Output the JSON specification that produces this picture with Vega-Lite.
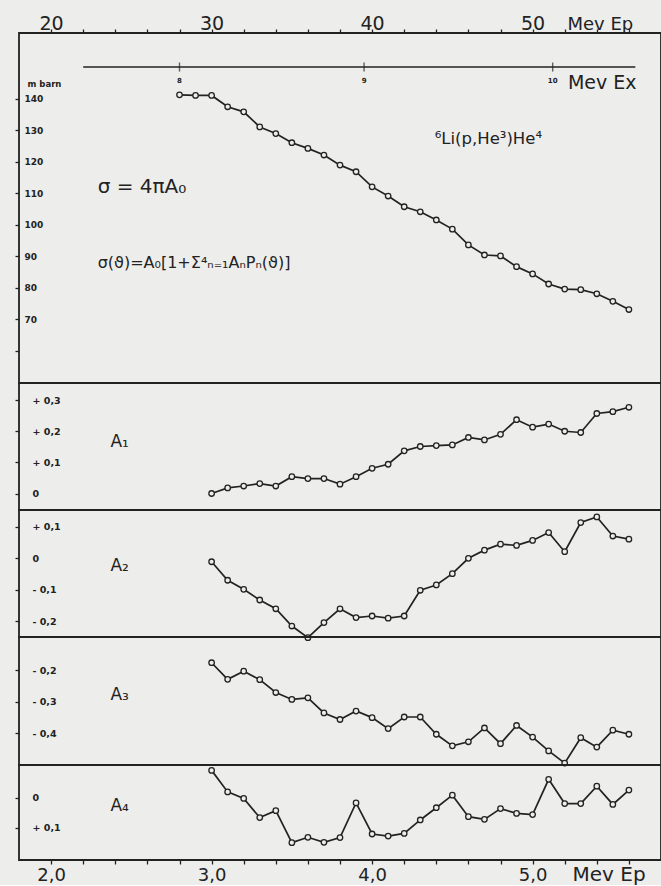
{
  "$schema": "https://vega.github.io/schema/vega-lite/v6.json",
  "background": "#ededeb",
  "padding": {"left": 13, "top": 13, "right": 0, "bottom": 0},
  "spacing": 0,
  "bounds": "flush",
  "datasets": {
    "sigma": [
      {"ep": 28, "v": 141.2}, {"ep": 29, "v": 141.0}, {"ep": 30, "v": 141.0},
      {"ep": 31, "v": 137.4}, {"ep": 32, "v": 135.8}, {"ep": 33, "v": 131.0},
      {"ep": 34, "v": 128.9}, {"ep": 35, "v": 126.0}, {"ep": 36, "v": 124.2},
      {"ep": 37, "v": 122.1}, {"ep": 38, "v": 118.9}, {"ep": 39, "v": 116.8},
      {"ep": 40, "v": 112.0}, {"ep": 41, "v": 109.1}, {"ep": 42, "v": 105.7},
      {"ep": 43, "v": 104.1}, {"ep": 44, "v": 101.5}, {"ep": 45, "v": 98.6},
      {"ep": 46, "v": 93.6}, {"ep": 47, "v": 90.4}, {"ep": 48, "v": 90.1},
      {"ep": 49, "v": 86.7}, {"ep": 50, "v": 84.4}, {"ep": 51, "v": 81.2},
      {"ep": 52, "v": 79.6}, {"ep": 53, "v": 79.4}, {"ep": 54, "v": 78.1},
      {"ep": 55, "v": 75.7}, {"ep": 56, "v": 73.1}
    ],
    "coef": [
      {"ep": 30, "A1": 0.000, "A2": -0.011, "A3": -0.176, "A4": -0.092},
      {"ep": 31, "A1": 0.018, "A2": -0.070, "A3": -0.229, "A4": -0.020},
      {"ep": 32, "A1": 0.024, "A2": -0.099, "A3": -0.203, "A4": 0.002},
      {"ep": 33, "A1": 0.032, "A2": -0.133, "A3": -0.230, "A4": 0.066},
      {"ep": 34, "A1": 0.024, "A2": -0.161, "A3": -0.271, "A4": 0.043},
      {"ep": 35, "A1": 0.054, "A2": -0.216, "A3": -0.293, "A4": 0.150},
      {"ep": 36, "A1": 0.048, "A2": -0.253, "A3": -0.288, "A4": 0.132},
      {"ep": 37, "A1": 0.048, "A2": -0.205, "A3": -0.336, "A4": 0.149},
      {"ep": 38, "A1": 0.030, "A2": -0.161, "A3": -0.357, "A4": 0.133},
      {"ep": 39, "A1": 0.054, "A2": -0.189, "A3": -0.330, "A4": 0.017},
      {"ep": 40, "A1": 0.081, "A2": -0.184, "A3": -0.351, "A4": 0.121},
      {"ep": 41, "A1": 0.094, "A2": -0.191, "A3": -0.386, "A4": 0.128},
      {"ep": 42, "A1": 0.137, "A2": -0.184, "A3": -0.349, "A4": 0.119},
      {"ep": 43, "A1": 0.151, "A2": -0.102, "A3": -0.349, "A4": 0.074},
      {"ep": 44, "A1": 0.154, "A2": -0.085, "A3": -0.404, "A4": 0.033},
      {"ep": 45, "A1": 0.156, "A2": -0.049, "A3": -0.441, "A4": -0.009},
      {"ep": 46, "A1": 0.180, "A2": 0.000, "A3": -0.428, "A4": 0.063},
      {"ep": 47, "A1": 0.172, "A2": 0.026, "A3": -0.384, "A4": 0.072},
      {"ep": 48, "A1": 0.190, "A2": 0.045, "A3": -0.434, "A4": 0.036},
      {"ep": 49, "A1": 0.237, "A2": 0.041, "A3": -0.376, "A4": 0.052},
      {"ep": 50, "A1": 0.213, "A2": 0.057, "A3": -0.413, "A4": 0.056},
      {"ep": 51, "A1": 0.223, "A2": 0.082, "A3": -0.457, "A4": -0.062},
      {"ep": 52, "A1": 0.200, "A2": 0.021, "A3": -0.496, "A4": 0.019},
      {"ep": 53, "A1": 0.196, "A2": 0.114, "A3": -0.415, "A4": 0.019},
      {"ep": 54, "A1": 0.257, "A2": 0.132, "A3": -0.445, "A4": -0.039},
      {"ep": 55, "A1": 0.263, "A2": 0.071, "A3": -0.391, "A4": 0.022},
      {"ep": 56, "A1": 0.277, "A2": 0.061, "A3": -0.404, "A4": -0.026}
    ],
    "ex": [
      {"ep": 28, "lab": "8"},
      {"ep": 39.5, "lab": "9"},
      {"ep": 51.25, "lab": "10"}
    ]
  },
  "config": {
    "view": {"stroke": "#222222", "strokeWidth": 1.8},
    "font": "DejaVu Sans",
    "axis": {
      "domain": false, "grid": false,
      "tickColor": "#222222", "tickWidth": 1.3, "tickSize": 4,
      "labelColor": "#222222", "labelFont": "DejaVu Sans",
      "titleColor": "#222222", "titleFont": "DejaVu Sans", "titleFontWeight": "normal"
    },
    "text": {"color": "#222222", "font": "DejaVu Sans"}
  },
  "vconcat": [
    {
      "width": 642,
      "height": 350,
      "resolve": {"axis": {"x": "independent", "y": "independent"}},
      "layer": [
        {
          "data": {"name": "sigma"},
          "mark": {"type": "line", "color": "#222222", "strokeWidth": 1.7},
          "encoding": {
            "x": {
              "field": "ep", "type": "quantitative",
              "scale": {"domain": [18, 58], "nice": false, "zero": false},
              "axis": {
                "orient": "top",
                "values": [20, 22, 24, 26, 28, 30, 32, 34, 36, 38, 40, 42, 44, 46, 48, 50, 52, 54, 56],
                "labelExpr": "datum.value % 10 === 0 ? datum.label : ''",
                "labelFontSize": 19, "labelPadding": 0, "labelBaseline": "alphabetic",
                "title": "Mev Ep", "titleX": 548, "titleY": -4,
                "titleAlign": "left", "titleBaseline": "alphabetic", "titleFontSize": 18, "titleAngle": 0
              }
            },
            "y": {
              "field": "v", "type": "quantitative",
              "scale": {"domain": [49.8, 160.8], "nice": false, "zero": false},
              "axis": {
                "orient": "left",
                "values": [60, 70, 80, 90, 100, 110, 120, 130, 140],
                "labelExpr": "datum.value < 65 ? '' : datum.label",
                "labelAlign": "left", "labelPadding": -9, "labelFontSize": 9, "labelFontWeight": "bold",
                "title": "m barn", "titleX": 8, "titleY": 50, "titleAngle": 0,
                "titleAlign": "left", "titleBaseline": "middle", "titleFontSize": 8.5, "titleFontWeight": "bold"
              }
            }
          }
        },
        {
          "data": {"name": "sigma"},
          "mark": {"type": "point", "shape": "circle", "filled": true, "fill": "#ededeb", "stroke": "#222222", "strokeWidth": 1.3, "size": 30, "opacity": 1},
          "encoding": {
            "x": {"field": "ep", "type": "quantitative", "axis": null},
            "y": {"field": "v", "type": "quantitative", "axis": null}
          }
        },
        {
          "data": {"values": [{"a": 22, "b": 56.4, "c": 150}]},
          "mark": {"type": "rule", "color": "#222222", "strokeWidth": 1.6},
          "encoding": {
            "x": {"field": "a", "type": "quantitative", "axis": null},
            "x2": {"field": "b"},
            "y": {"field": "c", "type": "quantitative", "axis": null}
          }
        },
        {
          "data": {"name": "ex"},
          "mark": {"type": "tick", "orient": "vertical", "color": "#222222", "thickness": 1.4, "size": 9},
          "encoding": {
            "x": {"field": "ep", "type": "quantitative", "axis": null},
            "y": {"datum": 150, "type": "quantitative", "axis": null}
          }
        },
        {
          "data": {"name": "ex"},
          "mark": {"type": "text", "fontSize": 7, "fontWeight": "bold", "baseline": "middle"},
          "encoding": {
            "x": {"field": "ep", "type": "quantitative", "axis": null},
            "y": {"datum": 145.6, "type": "quantitative", "axis": null},
            "text": {"field": "lab"}
          }
        },
        {
          "data": {"values": [{"t": "Mev Ex"}]},
          "mark": {"type": "text", "fontSize": 19, "align": "left", "baseline": "middle"},
          "encoding": {"x": {"datum": 52.2, "type": "quantitative", "axis": null}, "y": {"datum": 144.8, "type": "quantitative", "axis": null}, "text": {"field": "t"}}
        },
        {
          "data": {"values": [{"t": "⁶Li(p,He³)He⁴"}]},
          "mark": {"type": "text", "fontSize": 16.5, "align": "left", "baseline": "middle"},
          "encoding": {"x": {"datum": 43.9, "type": "quantitative", "axis": null}, "y": {"datum": 127.2, "type": "quantitative", "axis": null}, "text": {"field": "t"}}
        },
        {
          "data": {"values": [{"t": "σ = 4πA₀"}]},
          "mark": {"type": "text", "fontSize": 20, "align": "left", "baseline": "middle"},
          "encoding": {"x": {"datum": 22.9, "type": "quantitative", "axis": null}, "y": {"datum": 112, "type": "quantitative", "axis": null}, "text": {"field": "t"}}
        },
        {
          "data": {"values": [{"t": "σ(ϑ)=A₀[1+Σ⁴ₙ₌₁AₙPₙ(ϑ)]"}]},
          "mark": {"type": "text", "fontSize": 16, "align": "left", "baseline": "middle"},
          "encoding": {"x": {"datum": 22.9, "type": "quantitative", "axis": null}, "y": {"datum": 88, "type": "quantitative", "axis": null}, "text": {"field": "t"}}
        }
      ]
    },
    {
      "width": 642,
      "height": 127,
      "resolve": {"axis": {"x": "independent", "y": "independent"}},
      "layer": [
        {
          "data": {"name": "coef"},
          "mark": {"type": "line", "color": "#222222", "strokeWidth": 1.7},
          "encoding": {
            "x": {"field": "ep", "type": "quantitative", "scale": {"domain": [18, 58], "nice": false, "zero": false}, "axis": null},
            "y": {
              "field": "A1", "type": "quantitative",
              "scale": {"domain": [-0.053, 0.355], "nice": false, "zero": false},
              "axis": {
                "orient": "left",
                "values": [0, 0.1, 0.2, 0.3],
                "labelExpr": "datum.value == 0 ? '0' : (datum.value > 0 ? '+ ' : '- ') + replace(format(abs(datum.value), '.1f'), '.', ',')",
                "labelAlign": "left", "labelPadding": -17, "labelFontSize": 9.5, "labelFontWeight": "bold", "title": null
              }
            }
          }
        },
        {
          "data": {"name": "coef"},
          "mark": {"type": "point", "shape": "circle", "filled": true, "fill": "#ededeb", "stroke": "#222222", "strokeWidth": 1.3, "size": 30, "opacity": 1},
          "encoding": {"x": {"field": "ep", "type": "quantitative", "axis": null}, "y": {"field": "A1", "type": "quantitative", "axis": null}}
        },
        {
          "data": {"values": [{"t": "A₁"}]},
          "mark": {"type": "text", "fontSize": 17, "align": "left", "baseline": "middle"},
          "encoding": {"x": {"datum": 23.7, "type": "quantitative", "axis": null}, "y": {"datum": 0.165, "type": "quantitative", "axis": null}, "text": {"field": "t"}}
        }
      ]
    },
    {
      "width": 642,
      "height": 127,
      "resolve": {"axis": {"x": "independent", "y": "independent"}},
      "layer": [
        {
          "data": {"name": "coef"},
          "mark": {"type": "line", "color": "#222222", "strokeWidth": 1.7},
          "encoding": {
            "x": {"field": "ep", "type": "quantitative", "scale": {"domain": [18, 58], "nice": false, "zero": false}, "axis": null},
            "y": {
              "field": "A2", "type": "quantitative",
              "scale": {"domain": [-0.251, 0.154], "nice": false, "zero": false},
              "axis": {
                "orient": "left",
                "values": [-0.2, -0.1, 0, 0.1],
                "labelExpr": "datum.value == 0 ? '0' : (datum.value > 0 ? '+ ' : '- ') + replace(format(abs(datum.value), '.1f'), '.', ',')",
                "labelAlign": "left", "labelPadding": -17, "labelFontSize": 9.5, "labelFontWeight": "bold", "title": null
              }
            }
          }
        },
        {
          "data": {"name": "coef"},
          "mark": {"type": "point", "shape": "circle", "filled": true, "fill": "#ededeb", "stroke": "#222222", "strokeWidth": 1.3, "size": 30, "opacity": 1},
          "encoding": {"x": {"field": "ep", "type": "quantitative", "axis": null}, "y": {"field": "A2", "type": "quantitative", "axis": null}}
        },
        {
          "data": {"values": [{"t": "A₂"}]},
          "mark": {"type": "text", "fontSize": 17, "align": "left", "baseline": "middle"},
          "encoding": {"x": {"datum": 23.7, "type": "quantitative", "axis": null}, "y": {"datum": -0.025, "type": "quantitative", "axis": null}, "text": {"field": "t"}}
        }
      ]
    },
    {
      "width": 642,
      "height": 128,
      "resolve": {"axis": {"x": "independent", "y": "independent"}},
      "layer": [
        {
          "data": {"name": "coef"},
          "mark": {"type": "line", "color": "#222222", "strokeWidth": 1.7},
          "encoding": {
            "x": {"field": "ep", "type": "quantitative", "scale": {"domain": [18, 58], "nice": false, "zero": false}, "axis": null},
            "y": {
              "field": "A3", "type": "quantitative",
              "scale": {"domain": [-0.502, -0.094], "nice": false, "zero": false},
              "axis": {
                "orient": "left",
                "values": [-0.4, -0.3, -0.2],
                "labelExpr": "datum.value == 0 ? '0' : (datum.value > 0 ? '+ ' : '- ') + replace(format(abs(datum.value), '.1f'), '.', ',')",
                "labelAlign": "left", "labelPadding": -17, "labelFontSize": 9.5, "labelFontWeight": "bold", "title": null
              }
            }
          }
        },
        {
          "data": {"name": "coef"},
          "mark": {"type": "point", "shape": "circle", "filled": true, "fill": "#ededeb", "stroke": "#222222", "strokeWidth": 1.3, "size": 30, "opacity": 1},
          "encoding": {"x": {"field": "ep", "type": "quantitative", "axis": null}, "y": {"field": "A3", "type": "quantitative", "axis": null}}
        },
        {
          "data": {"values": [{"t": "A₃"}]},
          "mark": {"type": "text", "fontSize": 17, "align": "left", "baseline": "middle"},
          "encoding": {"x": {"datum": 23.7, "type": "quantitative", "axis": null}, "y": {"datum": -0.28, "type": "quantitative", "axis": null}, "text": {"field": "t"}}
        }
      ]
    },
    {
      "width": 642,
      "height": 95,
      "resolve": {"axis": {"x": "independent", "y": "independent"}},
      "layer": [
        {
          "data": {"name": "coef"},
          "mark": {"type": "line", "color": "#222222", "strokeWidth": 1.7},
          "encoding": {
            "x": {
              "field": "ep", "type": "quantitative",
              "scale": {"domain": [18, 58], "nice": false, "zero": false},
              "axis": {
                "orient": "bottom",
                "values": [20, 22, 24, 26, 28, 30, 32, 34, 36, 38, 40, 42, 44, 46, 48, 50, 52, 54, 56],
                "labelExpr": "datum.value % 10 === 0 ? replace(format(datum.value / 10, '.1f'), '.', ',') : ''",
                "labelFontSize": 18, "labelPadding": 2,
                "title": "Mev  Ep", "titleX": 553, "titleY": 20,
                "titleAlign": "left", "titleBaseline": "alphabetic", "titleFontSize": 20, "titleAngle": 0
              }
            },
            "y": {
              "field": "A4", "type": "quantitative",
              "scale": {"domain": [-0.110, 0.208], "nice": false, "zero": false, "reverse": true},
              "axis": {
                "orient": "left",
                "values": [0, 0.1],
                "labelExpr": "datum.value == 0 ? '0' : (datum.value > 0 ? '+ ' : '- ') + replace(format(abs(datum.value), '.1f'), '.', ',')",
                "labelAlign": "left", "labelPadding": -17, "labelFontSize": 9.5, "labelFontWeight": "bold", "title": null
              }
            }
          }
        },
        {
          "data": {"name": "coef"},
          "mark": {"type": "point", "shape": "circle", "filled": true, "fill": "#ededeb", "stroke": "#222222", "strokeWidth": 1.3, "size": 30, "opacity": 1},
          "encoding": {"x": {"field": "ep", "type": "quantitative", "axis": null}, "y": {"field": "A4", "type": "quantitative", "axis": null}}
        },
        {
          "data": {"values": [{"t": "A₄"}]},
          "mark": {"type": "text", "fontSize": 17, "align": "left", "baseline": "middle"},
          "encoding": {"x": {"datum": 23.7, "type": "quantitative", "axis": null}, "y": {"datum": 0.028, "type": "quantitative", "axis": null}, "text": {"field": "t"}}
        }
      ]
    }
  ]
}
